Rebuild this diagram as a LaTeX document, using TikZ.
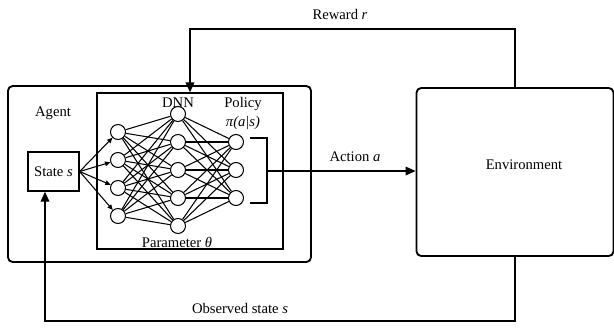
\documentclass[tikz,border=0pt]{standalone}
\usepackage{fontspec}
\setmainfont{Liberation Serif}
\usetikzlibrary{arrows.meta}
\tikzset{
  box/.style={draw, line width=1.6pt, rounded corners=4pt, inner sep=0pt},
  plainbox/.style={draw, line width=1.1pt, inner sep=0pt},
  neuron/.style={draw, circle, line width=0.9pt, minimum size=0.45cm, inner sep=0pt},
  link/.style={line width=0.9pt},
  flow/.style={line width=1.1pt, -{Triangle[length=3mm,width=2.6mm]}},
  feed/.style={line width=0.9pt, -{Triangle[length=1.6mm,width=1.4mm]}},
}
\begin{document}
\begin{tikzpicture}[x=0.03cm, y=-0.03cm, font=\fontsize{12.5}{15}\selectfont]
  \useasboundingbox (0,0) rectangle (614,327);
  \node[box, minimum width=9.09cm, minimum height=5.28cm] (agent) at (159.5,174) {};
  \node[box, minimum width=5.91cm, minimum height=5.04cm] (env) at (515,172) {};
  \node[plainbox, minimum width=5.58cm, minimum height=4.68cm] (dnn) at (190,171) {};
  \node[plainbox, minimum width=1.53cm, minimum height=1.17cm] (state) at (53.5,171.5) {State \textit{s}};
  \node (agentlbl) at (53,113) {Agent};
  \node (dnnlbl) at (178,103) {DNN};
  \node (policylbl) at (243,104) {Policy};
  \node (pilbl) at (243,123) {\textit{π(a|s)}};
  \node (paramlbl) at (177,242) {Parameter \textit{θ}};
  \node (envlbl) at (524,165) {Environment};
  \node (rewardlbl) at (340,14) {Reward \textit{r}};
  \node (actionlbl) at (355,157) {Action \textit{a}};
  \node (obslbl) at (240,308) {Observed state \textit{s}};
  \foreach \i/\y in {1/132,2/160,3/188,4/216}
    \node[neuron] (in\i) at (118,\y) {};
  \foreach \i/\y in {1/114,2/142,3/170,4/198,5/226}
    \node[neuron] (hid\i) at (178,\y) {};
  \foreach \i/\y in {1/142,2/170,3/198}
    \node[neuron] (out\i) at (236,\y) {};
  \foreach \i in {1,...,4}
    \draw[feed] (state.east) -- (in\i);
  \foreach \i in {1,...,4}
    \foreach \j in {1,...,5}
      \draw[link] (in\i) -- (hid\j);
  \foreach \j in {1,...,5}
    \foreach \k in {1,...,3}
      \draw[link] (hid\j) -- (out\k);
  \coordinate (brk) at (267,171);
  \draw[link] (250,138) -- (267,138) -- (267,203) -- (250,203);
  \draw[flow] (brk) -- (brk -| env.west);
  \coordinate (rwd) at (190,29);
  \draw[flow] (env.north) |- (rwd) -- (dnn.north);
  \coordinate (obs) at (45,321);
  \draw[flow] (env.south) |- (obs) -- (obs |- state.south);
\end{tikzpicture}
\end{document}
